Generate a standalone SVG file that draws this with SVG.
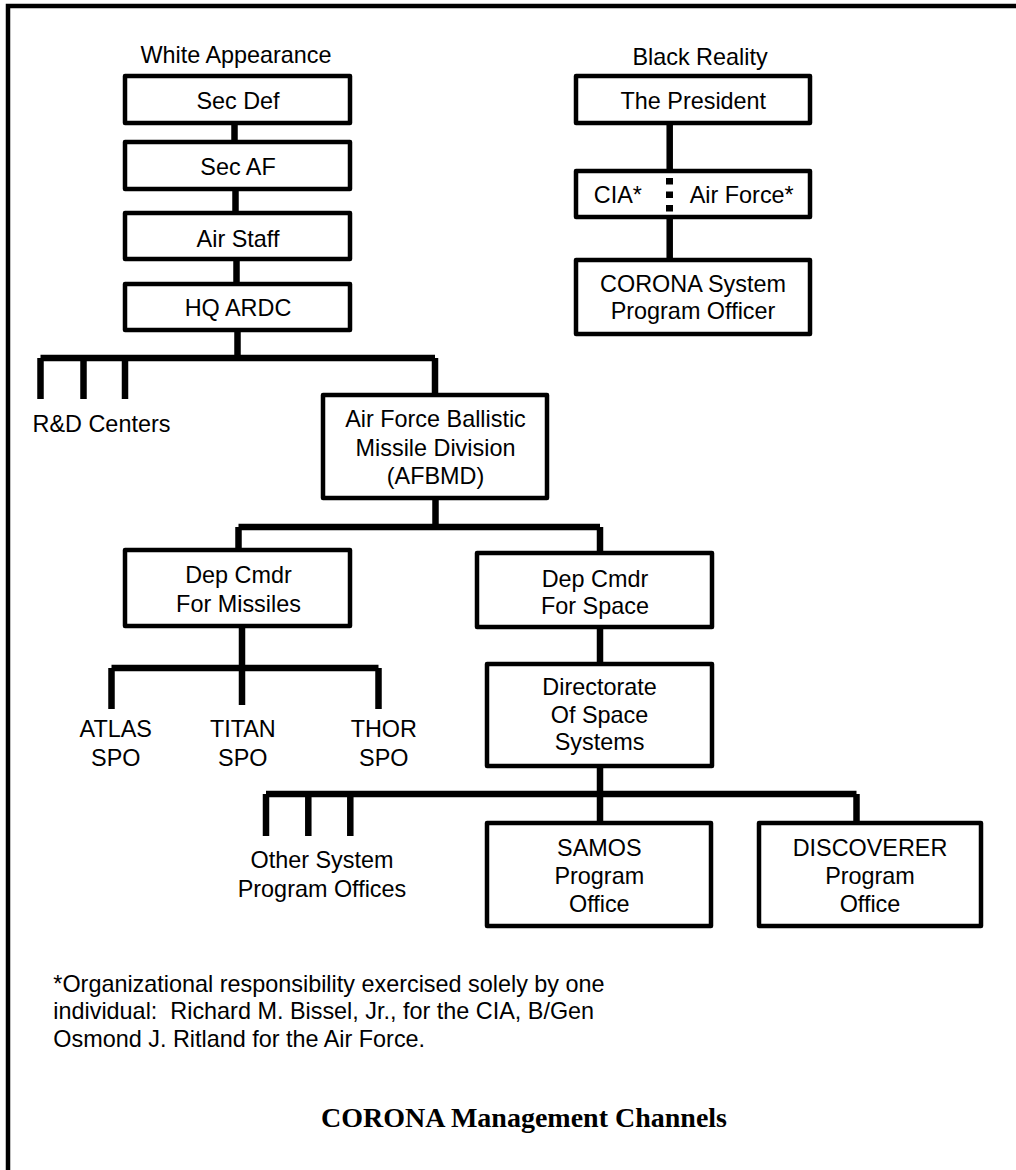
<svg xmlns="http://www.w3.org/2000/svg" width="1016" height="1170" viewBox="0 0 1016 1170">
<style>
.box{fill:#fff;stroke:#000;stroke-width:4.5;stroke-linejoin:round}
.ln{fill:none;stroke:#000;stroke-width:6.5;stroke-linecap:butt}
text{font-family:"Liberation Sans",Arial,sans-serif;font-size:23.4px;fill:#000}
.c{text-anchor:middle}
.title{font-family:"Liberation Serif","Times New Roman",serif;font-size:28px;font-weight:bold}
</style>
<rect x="0" y="0" width="1016" height="1170" fill="#fff"/>
<path d="M8,1170 V6 H1016" fill="none" stroke="#000" stroke-width="4.5"/>

<g id="connectors">
<line class="ln" x1="234.5" y1="124" x2="234.5" y2="141"/>
<line class="ln" x1="235.5" y1="190" x2="235.5" y2="212"/>
<line class="ln" x1="236.5" y1="260" x2="236.5" y2="283"/>
<line class="ln" x1="237.5" y1="331" x2="237.5" y2="358"/>
<line class="ln" x1="40.5" y1="358" x2="435" y2="358"/>
<line class="ln" x1="40.5" y1="358" x2="40.5" y2="399"/>
<line class="ln" x1="83.5" y1="358" x2="83.5" y2="399"/>
<line class="ln" x1="125" y1="358" x2="125" y2="399"/>
<line class="ln" x1="435" y1="358" x2="435" y2="394"/>
<line class="ln" x1="435.5" y1="497" x2="435.5" y2="527"/>
<line class="ln" x1="238.5" y1="527" x2="600" y2="527"/>
<line class="ln" x1="238.5" y1="527" x2="238.5" y2="550"/>
<line class="ln" x1="600" y1="527" x2="600" y2="553"/>
<line class="ln" x1="242" y1="625" x2="242" y2="705"/>
<line class="ln" x1="111.5" y1="668" x2="378.5" y2="668"/>
<line class="ln" x1="111.5" y1="668" x2="111.5" y2="709"/>
<line class="ln" x1="378.5" y1="668" x2="378.5" y2="709"/>
<line class="ln" x1="600" y1="626" x2="600" y2="664"/>
<line class="ln" x1="600" y1="765" x2="600" y2="823"/>
<line class="ln" x1="266" y1="794" x2="856.5" y2="794"/>
<line class="ln" x1="266" y1="794" x2="266" y2="836"/>
<line class="ln" x1="308.3" y1="794" x2="308.3" y2="836"/>
<line class="ln" x1="350.3" y1="794" x2="350.3" y2="836"/>
<line class="ln" x1="856.5" y1="794" x2="856.5" y2="823"/>
<line class="ln" x1="669.7" y1="122" x2="669.7" y2="172"/>
<line class="ln" x1="669.7" y1="216" x2="669.7" y2="261"/>
</g>

<text class="c" x="236" y="63">White Appearance</text>
<text class="c" x="700" y="65">Black Reality</text>

<g id="secdef"><rect class="box" x="125" y="76" width="225" height="47"/><text class="c" x="238" y="109">Sec Def</text></g>
<g id="secaf"><rect class="box" x="125" y="142" width="225" height="47"/><text class="c" x="238" y="175">Sec AF</text></g>
<g id="airstaff"><rect class="box" x="125" y="213" width="225" height="46"/><text class="c" x="238" y="247">Air Staff</text></g>
<g id="hqardc"><rect class="box" x="125" y="284" width="225" height="46"/><text class="c" x="238" y="316">HQ ARDC</text></g>
<g id="rdcenters"><text class="c" x="101.5" y="432">R&amp;D Centers</text></g>
<g id="afbmd"><rect class="box" x="323" y="395" width="224" height="103"/>
<text class="c" x="435.5" y="427">Air Force Ballistic</text>
<text class="c" x="435.5" y="455.5">Missile Division</text>
<text class="c" x="435.5" y="484">(AFBMD)</text></g>
<g id="depmissiles"><rect class="box" x="125" y="550" width="225" height="76"/>
<text class="c" x="238.5" y="582.7">Dep Cmdr</text>
<text class="c" x="238.5" y="611.7">For Missiles</text></g>
<g id="atlas"><text class="c" x="115.8" y="737.3">ATLAS</text><text class="c" x="115.8" y="766">SPO</text></g>
<g id="titan"><text class="c" x="242.8" y="737.3">TITAN</text><text class="c" x="242.8" y="766">SPO</text></g>
<g id="thor"><text class="c" x="383.8" y="737.3">THOR</text><text class="c" x="383.8" y="766">SPO</text></g>
<g id="depspace"><rect class="box" x="477" y="553" width="235" height="74"/>
<text class="c" x="595" y="586.5">Dep Cmdr</text>
<text class="c" x="595" y="613.5">For Space</text></g>
<g id="directorate"><rect class="box" x="487" y="664" width="225" height="102"/>
<text class="c" x="599.5" y="695">Directorate</text>
<text class="c" x="599.5" y="722.7">Of Space</text>
<text class="c" x="599.5" y="750">Systems</text></g>
<g id="othersystems"><text class="c" x="322" y="868.3">Other System</text><text class="c" x="322" y="896.7">Program Offices</text></g>
<g id="samos"><rect class="box" x="487" y="823" width="224" height="103"/>
<text class="c" x="599.3" y="856">SAMOS</text>
<text class="c" x="599.3" y="884">Program</text>
<text class="c" x="599.3" y="911.7">Office</text></g>
<g id="discoverer"><rect class="box" x="759" y="823" width="222" height="103"/>
<text class="c" x="870" y="856">DISCOVERER</text>
<text class="c" x="870" y="884">Program</text>
<text class="c" x="870" y="911.7">Office</text></g>

<g id="president"><rect class="box" x="576" y="76" width="234" height="47"/><text class="c" x="693.3" y="109.3">The President</text></g>
<g id="ciaaf"><rect class="box" x="576" y="171" width="234" height="46"/>
<line x1="669.5" y1="178" x2="669.5" y2="212.5" stroke="#000" stroke-width="7" stroke-dasharray="6.5 7"/>
<text class="c" x="617.8" y="202.7">CIA*</text>
<text class="c" x="741.7" y="202.7">Air Force*</text></g>
<g id="coronaspo"><rect class="box" x="576" y="260" width="234" height="74"/>
<text class="c" x="693" y="291.7">CORONA System</text>
<text class="c" x="693" y="319.3">Program Officer</text></g>

<g id="footnote">
<text x="53.3" y="991.7">*Organizational responsibility exercised solely by one</text>
<text x="53.3" y="1019.3" xml:space="preserve">individual:  Richard M. Bissel, Jr., for the CIA, B/Gen</text>
<text x="53.3" y="1046.7">Osmond J. Ritland for the Air Force.</text>
</g>
<text class="c title" x="524" y="1127">CORONA Management Channels</text>
</svg>
